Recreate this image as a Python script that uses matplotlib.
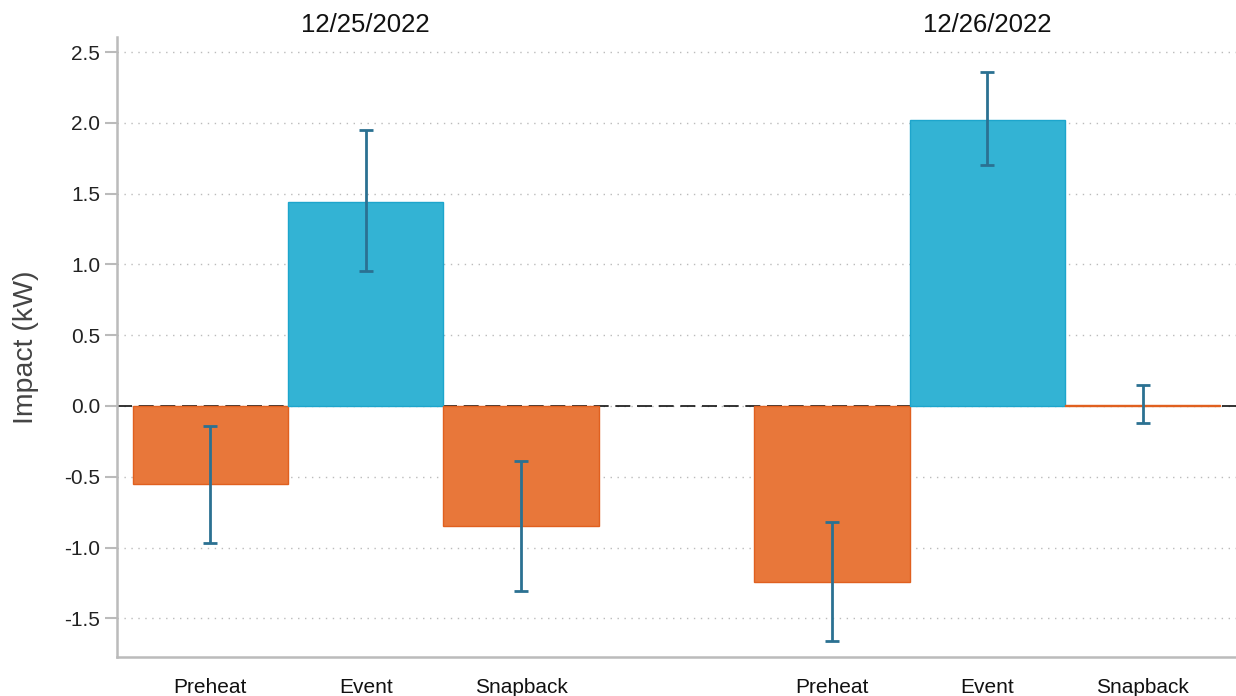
import matplotlib
matplotlib.use("Agg")
import matplotlib.pyplot as plt
import numpy as np

plt.rcParams['font.family'] = ['Liberation Sans', 'DejaVu Sans']

dates = ["12/25/2022", "12/26/2022"]
periods = ["Preheat", "Event", "Snapback"]
impact = [[-0.55, 1.44, -0.85],
          [-1.24, 2.02, 0.01]]
ci_low = [[-0.97, 0.95, -1.31],
          [-1.66, 1.70, -0.12]]
ci_high = [[-0.14, 1.95, -0.39],
           [-0.82, 2.36, 0.15]]

pos_color, pos_edge = "#33B3D4", "#1DA5CC"
neg_color, neg_edge = "#E8773A", "#E0601F"
err_color = "#2B7192"

fig = plt.figure(figsize=(12.36, 6.96), dpi=100)
ax = fig.add_axes([117 / 1236, 1 - 657 / 696, 1 - 117 / 1236, (657 - 37) / 696])

xs, vals, lows, highs, labels = [], [], [], [], []
for g, date in enumerate(dates):
    for i, p in enumerate(periods):
        xs.append(g * 4 + i)
        vals.append(impact[g][i])
        lows.append(ci_low[g][i])
        highs.append(ci_high[g][i])
        labels.append(p)
xs = np.array(xs)
vals = np.array(vals)
lows = np.array(lows)
highs = np.array(highs)

ax.axhline(0, color="#111111", lw=1.2, ls=(0, (9, 4)), zorder=1)
colors = [pos_color if v > 0.05 else neg_color for v in vals]
edges = [pos_edge if v > 0.05 else neg_edge for v in vals]
ax.bar(xs, vals, width=1.0, color=colors, edgecolor=edges, linewidth=1.0, zorder=2)
ax.errorbar(xs, vals, yerr=[vals - lows, highs - vals], fmt="none",
            ecolor=err_color, elinewidth=2, capsize=4.7, capthick=2, zorder=3)

for g, date in enumerate(dates):
    ax.text(g * 4 + 1, 1.0, date, transform=ax.get_xaxis_transform(),
            ha="center", va="bottom", fontsize=18.5, color="#111111")

ax.set_xlim(-0.6, 6.6)
ax.set_ylim(-1.773, 2.606)
ax.set_yticks([-1.5, -1.0, -0.5, 0.0, 0.5, 1.0, 1.5, 2.0, 2.5])
ax.set_yticklabels([f"{t:.1f}" for t in ax.get_yticks()])
ax.set_xticks(xs)
ax.set_xticklabels(labels)
ax.tick_params(axis="x", length=0, labelsize=15, pad=15, labelcolor="#111111")
ax.tick_params(axis="y", length=9, width=1.5, color="#BBBBBB", labelsize=15,
               labelcolor="#222222", pad=3)
ax.yaxis.grid(True, color="#BBBBBB", ls=(0, (1, 4)), lw=1)
ax.set_axisbelow(True)
ax.set_ylabel("Impact (kW)", fontsize=20.5, color="#444444", labelpad=18)

for s in ["top", "right"]:
    ax.spines[s].set_visible(False)
for s in ["left", "bottom"]:
    ax.spines[s].set_color("#BBBBBB")
    ax.spines[s].set_linewidth(1.8)

fig.savefig("out.png", dpi=100)
